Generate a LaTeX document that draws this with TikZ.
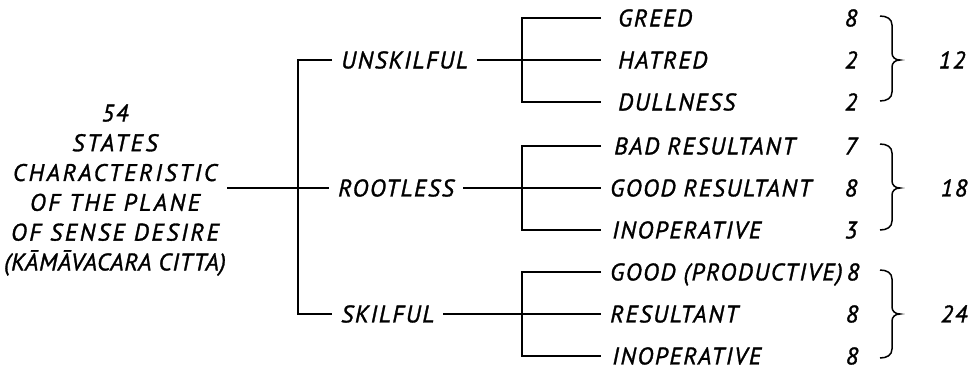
\documentclass[tikz,border=0pt]{standalone}
\usepackage{fontspec}
\newfontfamily\hand[LetterSpace=7,FakeBold=1.3]{PT Sans}
\newcommand\cbrace[3]{%
  \draw[brc] (880,#1) .. controls (887,#1) and (892,{#1+3}) .. (892,{#1+9})
    -- (892,{#2-7}) .. controls (892,{#2-3}) and (895,#2) .. (900,#2)
    .. controls (895,#2) and (892,{#2+3}) .. (892,{#2+7})
    -- (892,{#3-9}) .. controls (892,{#3-3}) and (887,#3) .. (880,#3);}
\newcommand\wide{\addfontfeatures{LetterSpace=11}}
\newcommand\tight{\addfontfeatures{LetterSpace=3}}
\begin{document}
\begin{tikzpicture}[x=1pt,y=-1pt,
  ln/.style={line width=1.6pt},
  brc/.style={line width=1.5pt},
  hf/.style={font=\hand\itshape\fontsize{24}{29.8}\selectfont},
  txt/.style={hf, inner ysep=0pt, inner xsep=9pt, text height=16.8pt, text depth=0pt},
  lab/.style={txt, anchor=west},
  num/.style={txt, inner xsep=0pt, anchor=center}]
\useasboundingbox (0,0) rectangle (977,373);
\node[hf, align=center, inner xsep=1pt, inner ysep=0pt] (root) at (115,190)
  {54\\{\wide STATES}\\{\wide CHARACTERISTIC}\\{\wide OF THE PLANE}\\{\wide OF SENSE DESIRE}\\{\tight (KĀMĀVACARA CITTA)}};
% level 1
\node[lab] (U) at (332,60) {UNSKILFUL};
\node[lab] (R) at (329,188) {ROOTLESS};
\node[lab] (S) at (332,314) {SKILFUL};
\coordinate (mv) at (298,188);
\draw[ln] (U.west) -| (mv) |- (S.west);
\draw[ln] (root.east |- R.west) -- (R.west);
% level 2
\node[lab, inner xsep=17pt] (a1) at (601,18) {GREED};
\node[lab, inner xsep=17pt] (a2) at (601,60) {HATRED};
\node[lab, inner xsep=17pt] (a3) at (601,102) {DULLNESS};
\node[lab, inner xsep=13pt] (b1) at (601,146) {BAD RESULTANT};
\node[lab] (b2) at (601,188) {GOOD RESULTANT};
\node[lab, inner xsep=11pt] (b3) at (601,230) {INOPERATIVE};
\node[lab] (c1) at (601,272) {GOOD (PRODUCTIVE)};
\node[lab] (c2) at (601,314) {RESULTANT};
\node[lab, inner xsep=11pt] (c3) at (601,356) {INOPERATIVE};
\coordinate (v1) at (522,60);
\coordinate (v2) at (522,188);
\coordinate (v3) at (522,314);
\draw[ln] (a1.west) -| (v1) |- (a3.west);
\draw[ln] (U.east) -- (a2.west);
\draw[ln] (b1.west) -| (v2) |- (b3.west);
\draw[ln] (R.east) -- (b2.west);
\draw[ln] (c1.west) -| (v3) |- (c3.west);
\draw[ln] (S.east) -- (c2.west);
% numbers
\node[num] (n1) at (851,18) {8};
\node[num] (n2) at (851,60) {2};
\node[num] (n3) at (851,102) {2};
\node[num] (n4) at (851,146) {7};
\node[num] (n5) at (851,188) {8};
\node[num] (n6) at (851,230) {3};
\node[num] (n7) at (853,272) {8};
\node[num] (n8) at (852,314) {8};
\node[num] (n9) at (852,356) {8};
% braces
\cbrace{16}{60}{101}
\cbrace{144}{188}{230}
\cbrace{270}{314}{358}
% totals
\node[num] (t1) at (952,60) {12};
\node[num] (t2) at (954,188) {18};
\node[num] (t3) at (954,314) {24};
\end{tikzpicture}
\end{document}
